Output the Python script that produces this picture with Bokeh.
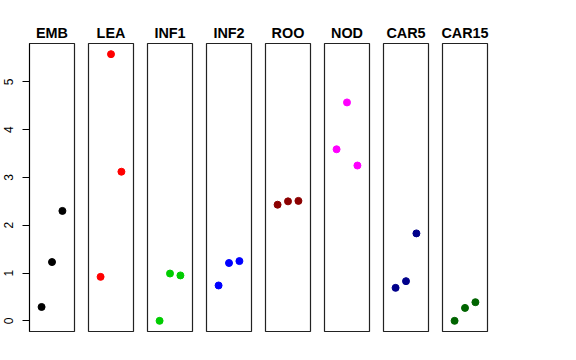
from bokeh.plotting import figure
from bokeh.layouts import row
from bokeh.models import Range1d, FixedTicker, LinearAxis
from bokeh.embed import file_html
from bokeh.resources import INLINE

tissues = ["EMB", "LEA", "INF1", "INF2", "ROO", "NOD", "CAR5", "CAR15"]
x_pos = [1, 2, 3]
emb = [0.29, 1.23, 2.30]
lea = [0.92, 5.58, 3.12]
inf1 = [0.00, 0.99, 0.95]
inf2 = [0.74, 1.21, 1.25]
roo = [2.43, 2.50, 2.51]
nod = [3.59, 4.57, 3.25]
car5 = [0.69, 0.83, 1.83]
car15 = [0.00, 0.27, 0.39]
series = [emb, lea, inf1, inf2, roo, nod, car5, car15]
colors = ["#000000", "#FF0000", "#00CD00", "#0000FF", "#8B0000", "#FF00FF", "#00008B", "#006400"]
y_ticks = [0, 1, 2, 3, 4, 5]

all_vals = [v for s in series for v in s]
ymin, ymax = min(all_vals), max(all_vals)
ext = 0.04 * (ymax - ymin)
y_lo, y_hi = ymin - ext, ymax + ext
x_lo, x_hi = 0 - 0.04 * 4, 4 + 0.04 * 4

FONT = "Liberation Sans"
figs = []
for i, (name, vals, col) in enumerate(zip(tissues, series, colors)):
    p = figure(frame_width=45, frame_height=288,
               x_range=Range1d(x_lo, x_hi), y_range=Range1d(y_lo, y_hi),
               x_axis_location=None, y_axis_location=None,
               toolbar_location=None, output_backend="svg",
               min_border_left=29 if i == 0 else 7, min_border_right=7,
               min_border_top=43, min_border_bottom=15)
    p.grid.visible = False
    p.outline_line_color = "#222222"
    p.outline_line_width = 1.2
    p.background_fill_color = "white"
    p.border_fill_color = "white"
    p.title.text = name
    p.title.align = "center"
    p.title.text_font = FONT
    p.title.text_font_style = "bold"
    p.title.text_font_size = "14.4px"
    p.title.text_color = "black"
    p.title.standoff = 6
    if i == 0:
        ax = LinearAxis(ticker=FixedTicker(ticks=y_ticks))
        ax.major_tick_out = 7
        ax.major_tick_in = 0
        ax.minor_tick_line_color = None
        ax.axis_line_color = "black"
        ax.major_tick_line_color = "black"
        ax.major_label_text_font = FONT
        ax.major_label_text_font_size = "12px"
        ax.major_label_text_color = "black"
        ax.major_label_orientation = "vertical"
        ax.major_label_standoff = 9
        p.add_layout(ax, "left")
    p.scatter(x=x_pos, y=vals, size=7, color=col, line_color=col)
    figs.append(p)

layout = row(*figs, spacing=0)
open("out.html", "w").write(file_html(layout, INLINE))
